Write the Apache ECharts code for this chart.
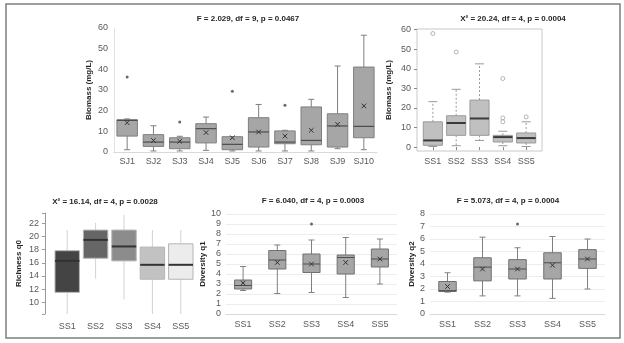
<!DOCTYPE html>
<html>
<head>
<meta charset="utf-8">
<script src="https://cdn.jsdelivr.net/npm/echarts@6/dist/echarts.min.js"></script>
<style>
  html, body { margin: 0; padding: 0; background: #fff; }
  #main { width: 624px; height: 343px; }
</style>
</head>
<body>
<div id="main"></div>
<script>
// SJ sites, biomass
var sjCats = ['SJ1', 'SJ2', 'SJ3', 'SJ4', 'SJ5', 'SJ6', 'SJ7', 'SJ8', 'SJ9', 'SJ10'];
var sjLow  = [1.1, 0.5, 0.5, 0.8, 0.5, 0.5, 0.5, 0.5, 1.6, 1.1];
var sjQ1   = [7.7, 2.7, 1.6, 4.4, 1.1, 2.4, 4.0, 3.5, 2.4, 6.9];
var sjMed  = [15.3, 4.8, 4.8, 11.3, 3.7, 9.7, 4.8, 5.6, 12.6, 12.4];
var sjQ3   = [15.6, 8.4, 6.9, 13.7, 7.4, 16.6, 10.2, 21.8, 18.5, 41.1];
var sjHigh = [16.0, 12.7, 7.6, 16.9, 7.4, 23.0, 10.5, 25.5, 41.6, 56.5];
var sjMean = [14.2, 5.6, 5.2, 9.4, 6.9, 9.7, 7.7, 10.5, 13.4, 22.3];
var sjOutCat = ['SJ1', 'SJ3', 'SJ5', 'SJ7'];
var sjOutVal = [36.3, 14.5, 29.4, 22.6];

// SS sites
var ssCats = ['SS1', 'SS2', 'SS3', 'SS4', 'SS5'];

// biomass by SS
var bioLow  = [0.3, 0.7, 3.4, 0.7, 0.3];
var bioQ1   = [0.9, 6.0, 6.0, 2.6, 2.1];
var bioMed  = [3.4, 12.3, 14.6, 5.1, 4.6];
var bioQ3   = [12.9, 16.0, 24.0, 6.0, 7.2];
var bioHigh = [23.2, 29.5, 42.5, 8.1, 12.9];
var bioOutCat = ['SS1', 'SS2', 'SS4', 'SS4', 'SS4', 'SS5'];
var bioOutVal = [58, 48.5, 35, 14.9, 12.9, 15.4];

// richness q0
var q0Low  = [8.2, 13.6, 10.4, 8.2, 8.2];
var q0Q1   = [11.5, 16.7, 16.3, 13.5, 13.5];
var q0Med  = [16.3, 19.5, 18.5, 15.7, 15.7];
var q0Q3   = [17.85, 21.0, 21.0, 18.4, 18.9];
var q0High = [21.0, 22.1, 23.3, 21.0, 21.0];

// diversity q1
var q1Low  = [2.35, 2.05, 2.15, 1.65, 3.0];
var q1Q1   = [2.5, 4.5, 4.15, 4.0, 4.7];
var q1Med  = [2.85, 5.4, 5.0, 5.65, 5.5];
var q1Q3   = [3.4, 6.35, 6.0, 5.9, 6.5];
var q1High = [4.75, 6.9, 7.4, 7.65, 7.5];
var q1Mean = [3.1, 5.15, 5.0, 5.15, 5.5];
var q1OutCat = ['SS3'];
var q1OutVal = [9.0];

// diversity q2
var q2Low  = [1.75, 1.45, 1.45, 1.25, 2.0];
var q2Q1   = [1.8, 2.65, 2.8, 2.8, 3.65];
var q2Med  = [1.87, 3.75, 3.6, 4.1, 4.4];
var q2Q3   = [2.6, 4.5, 4.35, 4.9, 5.15];
var q2High = [3.3, 6.15, 5.3, 6.2, 6.0];
var q2Mean = [2.2, 3.6, 3.6, 3.9, 4.4];
var q2OutCat = ['SS3'];
var q2OutVal = [7.2];

var FONT = 'Liberation Sans, Arial, sans-serif';
var labelColor = '#595959';

function boxRows(lo, q1, med, q3, hi, mean, shift) {
  return lo.map(function (v, i) {
    return [i + shift, v, q1[i], med[i], q3[i], hi[i], mean ? mean[i] : null];
  });
}

function outRows(cats, outCat, outVal, shift) {
  return outCat.map(function (c, i) { return [cats.indexOf(c) + shift, outVal[i]]; });
}

function makeRender(st) {
  return function (params, api) {
    var x = api.value(0);
    var pLo = api.coord([x, api.value(1)]);
    var pQ1 = api.coord([x, api.value(2)]);
    var pMed = api.coord([x, api.value(3)]);
    var pQ3 = api.coord([x, api.value(4)]);
    var pHi = api.coord([x, api.value(5)]);
    var bw = api.size([1, 0])[0] * st.boxFrac;
    var cx = pMed[0];
    var fill = st.fills ? st.fills[params.dataIndex] : st.fill;
    var wStyle = { stroke: st.whisker, lineWidth: 1, lineDash: st.dash || null };
    var kids = [
      { type: 'line', shape: { x1: cx, y1: pQ3[1], x2: cx, y2: pHi[1] }, style: wStyle },
      { type: 'line', shape: { x1: cx, y1: pQ1[1], x2: cx, y2: pLo[1] }, style: wStyle }
    ];
    if (st.cap) {
      kids.push({ type: 'line', shape: { x1: cx - st.cap / 2, y1: pHi[1], x2: cx + st.cap / 2, y2: pHi[1] }, style: { stroke: st.capColor, lineWidth: 1 } });
      kids.push({ type: 'line', shape: { x1: cx - st.cap / 2, y1: pLo[1], x2: cx + st.cap / 2, y2: pLo[1] }, style: { stroke: st.capColor, lineWidth: 1 } });
    }
    kids.push({
      type: 'rect',
      shape: { x: cx - bw / 2, y: pQ3[1], width: bw, height: pQ1[1] - pQ3[1] },
      style: { fill: fill, stroke: st.border, lineWidth: 1 }
    });
    kids.push({
      type: 'line',
      shape: { x1: cx - bw / 2, y1: pMed[1], x2: cx + bw / 2, y2: pMed[1] },
      style: { stroke: st.median, lineWidth: st.medianWidth }
    });
    var m = api.value(6);
    if (st.mean && m != null && !isNaN(m)) {
      var pm = api.coord([x, m]);
      var s = 2.3;
      kids.push({ type: 'line', shape: { x1: pm[0] - s, y1: pm[1] - s, x2: pm[0] + s, y2: pm[1] + s }, style: { stroke: '#333', lineWidth: 1 } });
      kids.push({ type: 'line', shape: { x1: pm[0] - s, y1: pm[1] + s, x2: pm[0] + s, y2: pm[1] - s }, style: { stroke: '#333', lineWidth: 1 } });
    }
    return { type: 'group', children: kids };
  };
}

var axisLabelStyle = { color: labelColor, fontSize: 9, fontFamily: FONT };
var nameStyle = { color: '#262626', fontSize: 8, fontWeight: 'bold', fontFamily: FONT };

var grids = [
  { left: 114, top: 28, width: 263, height: 124 },
  { left: 417, top: 29, width: 125, height: 122, show: true, borderColor: '#c8c8c8', borderWidth: 1, backgroundColor: 'transparent' },
  { left: 53, top: 213, width: 142, height: 101 },
  { left: 226, top: 214, width: 171, height: 100 },
  { left: 430, top: 214, width: 175, height: 100 }
];

var xAxes = [
  { gridIndex: 0, type: 'category', data: sjCats,
    axisLine: { lineStyle: { color: '#d9d9d9' } }, axisTick: { show: false },
    axisLabel: Object.assign({ margin: 5, interval: 0 }, axisLabelStyle) },
  { gridIndex: 1, type: 'value', min: 0.32, max: 5.68,
    axisLine: { show: false }, splitLine: { show: false },
    axisTick: { show: true, length: 3, customValues: [1, 2, 3, 4, 5], lineStyle: { color: '#888' } },
    axisLabel: Object.assign({ margin: 6, customValues: [1, 2, 3, 4, 5],
      formatter: function (v) { return ssCats[Math.round(v) - 1]; } }, axisLabelStyle) },
  { gridIndex: 2, type: 'category', data: ssCats,
    axisLine: { show: false }, axisTick: { show: false },
    axisLabel: Object.assign({ margin: 8, interval: 0 }, axisLabelStyle) },
  { gridIndex: 3, type: 'category', data: ssCats,
    axisLine: { lineStyle: { color: '#d9d9d9' } }, axisTick: { show: false },
    axisLabel: Object.assign({ margin: 6, interval: 0 }, axisLabelStyle) },
  { gridIndex: 4, type: 'category', data: ssCats,
    axisLine: { lineStyle: { color: '#d9d9d9' } }, axisTick: { show: false },
    axisLabel: Object.assign({ margin: 6, interval: 0 }, axisLabelStyle) }
];

var yAxes = [
  { gridIndex: 0, type: 'value', min: 0, max: 60, interval: 10,
    name: 'Biomass (mg/L)', nameLocation: 'middle', nameGap: 21, nameTextStyle: nameStyle,
    axisLine: { show: true, lineStyle: { color: '#e3e3e3' } }, axisTick: { show: false },
    splitLine: { show: false }, axisLabel: Object.assign({ margin: 6 }, axisLabelStyle) },
  { gridIndex: 1, type: 'value', min: -2, max: 60.3,
    name: 'Biomass (mg/L)', nameLocation: 'middle', nameGap: 24, nameTextStyle: nameStyle,
    axisLine: { show: false }, splitLine: { show: false },
    axisTick: { show: true, length: 3, customValues: [0, 10, 20, 30, 40, 50, 60], lineStyle: { color: '#888' } },
    axisLabel: Object.assign({ margin: 6, customValues: [0, 10, 20, 30, 40, 50, 60] }, axisLabelStyle) },
  { gridIndex: 2, type: 'value', min: 8.2, max: 23.6, offset: 8,
    name: 'Richness q0', nameLocation: 'middle', nameGap: 22, nameTextStyle: nameStyle,
    axisLine: { show: true, lineStyle: { color: '#9a9a9a' } }, splitLine: { show: false },
    axisTick: { show: true, length: 3, customValues: [8.2, 10, 12, 14, 16, 18, 20, 22, 23.6], lineStyle: { color: '#9a9a9a' } },
    axisLabel: Object.assign({ margin: 6, customValues: [10, 12, 14, 16, 18, 20, 22] }, axisLabelStyle) },
  { gridIndex: 3, type: 'value', min: 0, max: 10, interval: 1,
    name: 'Diversity q1', nameLocation: 'middle', nameGap: 19, nameTextStyle: nameStyle,
    axisLine: { show: false }, axisTick: { show: false },
    splitLine: { show: true, lineStyle: { color: '#ededed' } },
    axisLabel: Object.assign({ margin: 5 }, axisLabelStyle) },
  { gridIndex: 4, type: 'value', min: 0, max: 8, interval: 1,
    name: 'Diversity q2', nameLocation: 'middle', nameGap: 13, nameTextStyle: nameStyle,
    axisLine: { show: false }, axisTick: { show: false },
    splitLine: { show: true, lineStyle: { color: '#ededed' } },
    axisLabel: Object.assign({ margin: 5 }, axisLabelStyle) }
];

var styles = [
  { boxFrac: 0.78, fill: '#a6a6a6', border: '#7f7f7f', whisker: '#7f7f7f', cap: 6, capColor: '#7f7f7f', median: '#4d4d4d', medianWidth: 1.2, mean: true },
  { boxFrac: 0.82, fill: '#c0c0c0', border: '#9a9a9a', whisker: '#9a9a9a', dash: [2, 2], cap: 9, capColor: '#9a9a9a', median: '#3a3a3a', medianWidth: 2, mean: false },
  { boxFrac: 0.86, fills: ['#444444', '#666666', '#8c8c8c', '#c2c2c2', '#ececec'], border: '#b5b5b5', whisker: '#d2d2d2', cap: 0, median: '#333333', medianWidth: 2, mean: false },
  { boxFrac: 0.5, fill: '#a6a6a6', border: '#707070', whisker: '#808080', cap: 6, capColor: '#808080', median: '#4d4d4d', medianWidth: 1, mean: true },
  { boxFrac: 0.5, fill: '#a6a6a6', border: '#707070', whisker: '#808080', cap: 6, capColor: '#808080', median: '#4d4d4d', medianWidth: 1, mean: true }
];

var boxData = [
  boxRows(sjLow, sjQ1, sjMed, sjQ3, sjHigh, sjMean, 0),
  boxRows(bioLow, bioQ1, bioMed, bioQ3, bioHigh, null, 1),
  boxRows(q0Low, q0Q1, q0Med, q0Q3, q0High, null, 0),
  boxRows(q1Low, q1Q1, q1Med, q1Q3, q1High, q1Mean, 0),
  boxRows(q2Low, q2Q1, q2Med, q2Q3, q2High, q2Mean, 0)
];

var series = [];
boxData.forEach(function (rows, i) {
  series.push({
    type: 'custom', xAxisIndex: i, yAxisIndex: i, clip: false,
    renderItem: makeRender(styles[i]),
    encode: { x: 0, y: [1, 2, 3, 4, 5] },
    data: rows, silent: true
  });
});

series.push({ type: 'scatter', xAxisIndex: 0, yAxisIndex: 0, symbolSize: 3, z: 5,
  itemStyle: { color: '#444' }, data: outRows(sjCats, sjOutCat, sjOutVal, 0) });
series.push({ type: 'scatter', xAxisIndex: 1, yAxisIndex: 1, symbolSize: 4, z: 5,
  itemStyle: { color: '#fff', borderColor: '#8c8c8c', borderWidth: 0.8 }, data: outRows(ssCats, bioOutCat, bioOutVal, 1) });
series.push({ type: 'scatter', xAxisIndex: 3, yAxisIndex: 3, symbolSize: 3, z: 5,
  itemStyle: { color: '#444' }, data: outRows(ssCats, q1OutCat, q1OutVal, 0) });
series.push({ type: 'scatter', xAxisIndex: 4, yAxisIndex: 4, symbolSize: 3, z: 5,
  itemStyle: { color: '#444' }, data: outRows(ssCats, q2OutCat, q2OutVal, 0) });

var titles = [
  { x: 248, y: 19, text: 'F = 2.029, df = 9, p = 0.0467' },
  { x: 513, y: 19, text: 'X² = 20.24, df = 4, p = 0.0004' },
  { x: 105, y: 202, text: 'X² = 16.14, df = 4, p = 0.0028' },
  { x: 313, y: 201, text: 'F = 6.040, df = 4, p = 0.0003' },
  { x: 508, y: 201, text: 'F = 5.073, df = 4, p = 0.0004' }
];

var graphics = [{
  type: 'rect', shape: { x: 6, y: 4, width: 614, height: 334 },
  style: { fill: 'none', stroke: '#7f7f7f', lineWidth: 1.5 }, z: -1
}];
titles.forEach(function (t) {
  graphics.push({
    type: 'text', x: t.x, y: t.y,
    style: { text: t.text, fill: '#262626', font: 'bold 8px ' + FONT, textAlign: 'center', textVerticalAlign: 'middle' }
  });
});

var chart = echarts.init(document.getElementById('main'), null, { renderer: 'canvas' });
chart.setOption({
  animation: false,
  backgroundColor: '#fff',
  grid: grids,
  xAxis: xAxes,
  yAxis: yAxes,
  graphic: graphics,
  series: series
});
</script>
</body>
</html>
